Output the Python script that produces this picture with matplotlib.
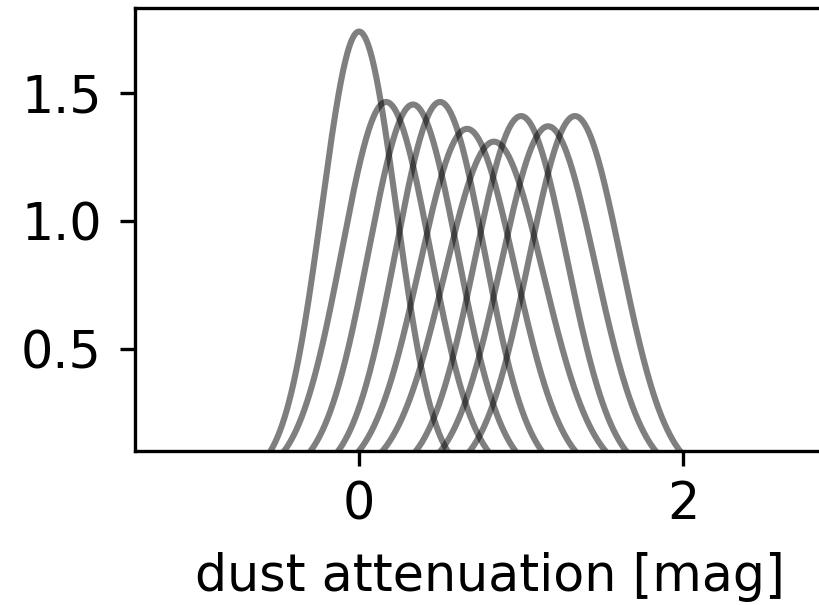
import numpy as np
import matplotlib
matplotlib.use("Agg")
import matplotlib.pyplot as plt

# Data: peak location and peak height of each density curve
centers = [0.0, 0.167, 0.333, 0.5, 0.667, 0.833, 1.0, 1.167, 1.333]
peaks = [1.74, 1.465, 1.455, 1.465, 1.36, 1.31, 1.41, 1.37, 1.41]

xlabel = "dust attenuation [mag]"
xticks = [0, 2]
yticks = [0.5, 1.0, 1.5]
yticklabels = ["0.5", "1.0", "1.5"]

W, H = 819, 605
fig = plt.figure(figsize=(W / 100, H / 100), dpi=100)
ax_left, ax_right, ax_top, ax_bot = 135, 845, 8, 451
ax = fig.add_axes([ax_left / W, (H - ax_bot) / H, (ax_right - ax_left) / W, (ax_bot - ax_top) / H])

for c, p in zip(centers, peaks):
    sigma = 1.0 / (p * np.sqrt(2 * np.pi))
    x = np.linspace(c - 4 * sigma, c + 4 * sigma, 400)
    y = p * np.exp(-0.5 * ((x - c) / sigma) ** 2)
    ax.plot(x, y, color="black", alpha=0.5, lw=4.4, solid_capstyle="butt")

ax.set_xlim(-1.383, 3.0)
ax.set_ylim(0.102, 1.832)
ax.set_xticks(xticks)
ax.set_xticklabels([str(t) for t in xticks])
ax.set_yticks(yticks)
ax.set_yticklabels(yticklabels)
ax.set_xlabel(xlabel, fontsize=36.5, labelpad=16)
ax.tick_params(axis="y", labelsize=36.5, length=11, width=2.4, pad=13)
ax.tick_params(axis="x", labelsize=36.5, length=11, width=2.4, pad=10)
for s in ax.spines.values():
    s.set_linewidth(2.4)

fig.savefig("out.png", dpi=100)
